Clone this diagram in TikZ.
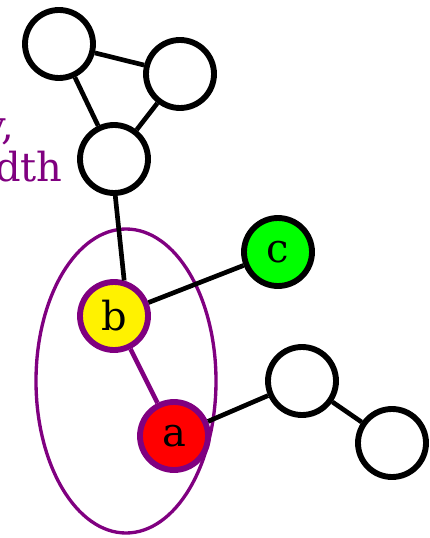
\documentclass[tikz,border=0pt]{standalone}
\usepackage{fontspec}
\setmainfont{DejaVu Serif}
\definecolor{gvpurple}{RGB}{128,0,128}
\definecolor{gvgreen}{RGB}{0,255,0}
\begin{document}
\begin{tikzpicture}[x=0.75pt,y=-0.75pt,
  vtx/.style={circle,draw=black,line width=4.4pt,fill=white,minimum size=51pt,inner sep=0pt,font=\fontsize{30}{36}\selectfont},
  hl/.style={draw=gvpurple},
  edge/.style={line width=3.5pt,black},
  lbl/.style={text=gvpurple,font=\fontsize{30}{36}\selectfont,anchor=base east,inner sep=0pt}]
\useasboundingbox (0,0) rectangle (429,538);
\draw[gvpurple,line width=2.5pt] (126,381) ellipse [x radius=90, y radius=152];
\node[lbl] (t1) at (14,140) {by,};
\node[lbl] (t2) at (63,182) {width};
\node[vtx] (n1) at (59,44) {};
\node[vtx] (n2) at (180,74) {};
\node[vtx] (n3) at (114,159) {};
\node[vtx,fill=gvgreen] (c) at (278,252) {c};
\node[vtx,hl,fill=yellow] (b) at (114,316) {b};
\node[vtx,hl,fill=red] (a) at (174,436) {a};
\node[vtx] (n4) at (302,381) {};
\node[vtx] (n5) at (392,443) {};
\draw[edge] (n1) -- (n2);
\draw[edge] (n1) -- (n3);
\draw[edge] (n2) -- (n3);
\draw[edge] (n3.272) -- (b.74);
\draw[edge] (b) -- (c);
\draw[edge,gvpurple] (b) -- (a);
\draw[edge] (a) -- (n4);
\draw[edge] (n4) -- (n5);
\end{tikzpicture}
\end{document}
